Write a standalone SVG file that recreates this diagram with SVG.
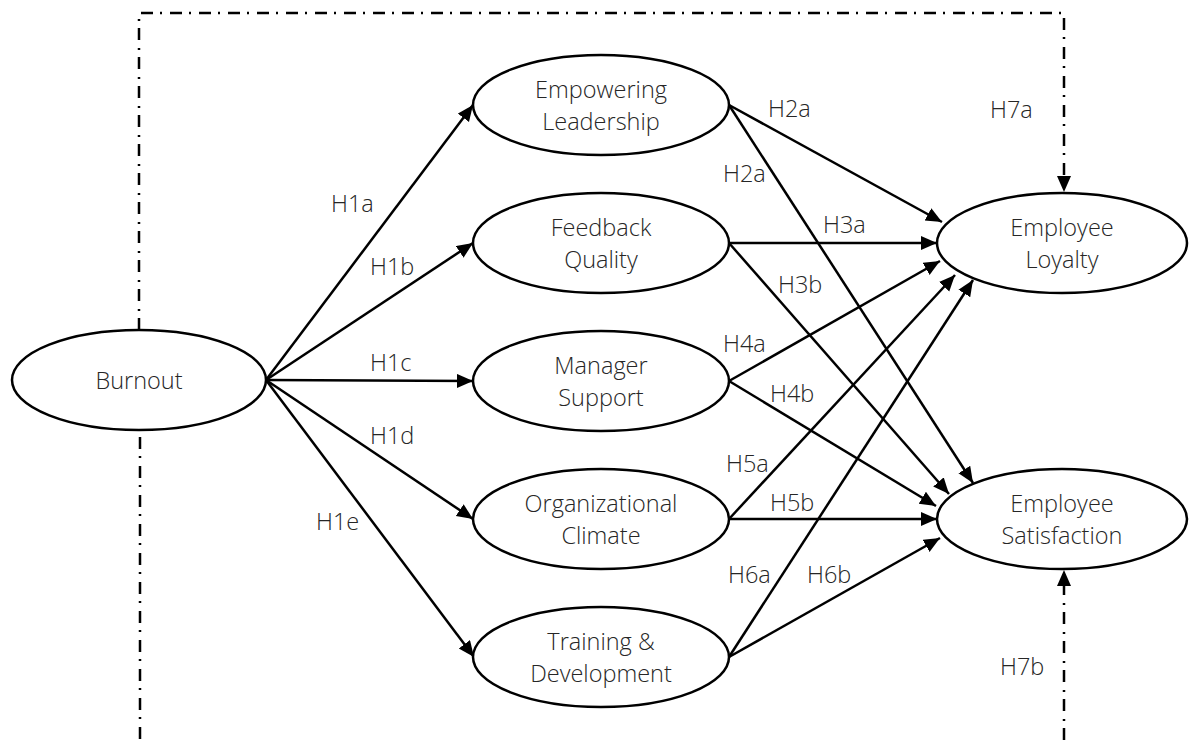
<svg xmlns="http://www.w3.org/2000/svg" width="1190" height="740" viewBox="0 0 1190 740">
<style>
.node ellipse{fill:#fff;stroke:#000;stroke-width:2.5}
.t{font-family:"Open Sans","Liberation Sans",sans-serif;font-weight:300;font-size:23.5px;fill:#262626}
.c{text-anchor:middle}
.ln{stroke:#000;stroke-width:2.5;fill:none}
.dd{stroke:#000;stroke-width:2.5;fill:none;stroke-dasharray:12 7 2 8}
</style>
<defs>
<marker id="ah" markerUnits="userSpaceOnUse" markerWidth="17" markerHeight="15" refX="16" refY="7" orient="auto">
<path d="M0,0 L16,7 L0,14 z" fill="#000"/>
</marker>
</defs>
<rect width="1190" height="740" fill="#fff"/>
<g id="connectors">
<path class="dd" d="M139,330 V13 H1064 V192" marker-end="url(#ah)"/>
<path class="dd" d="M140,437 V740"/>
<path class="dd" d="M1064,740 V570" marker-end="url(#ah)"/>
<line class="ln" x1="266" y1="380" x2="473" y2="105" marker-end="url(#ah)"/>
<line class="ln" x1="266" y1="380" x2="473" y2="243" marker-end="url(#ah)"/>
<line class="ln" x1="266" y1="380" x2="473" y2="381" marker-end="url(#ah)"/>
<line class="ln" x1="266" y1="380" x2="473" y2="519" marker-end="url(#ah)"/>
<line class="ln" x1="266" y1="380" x2="474" y2="657" marker-end="url(#ah)"/>
<line class="ln" x1="729" y1="105" x2="942" y2="222" marker-end="url(#ah)"/>
<line class="ln" x1="729" y1="105" x2="973" y2="483" marker-end="url(#ah)"/>
<line class="ln" x1="729" y1="243" x2="937" y2="243" marker-end="url(#ah)"/>
<line class="ln" x1="729" y1="243" x2="949" y2="494" marker-end="url(#ah)"/>
<line class="ln" x1="729" y1="381" x2="940" y2="261" marker-end="url(#ah)"/>
<line class="ln" x1="729" y1="381" x2="936" y2="506" marker-end="url(#ah)"/>
<line class="ln" x1="729" y1="519" x2="955" y2="275" marker-end="url(#ah)"/>
<line class="ln" x1="729" y1="519" x2="937" y2="519" marker-end="url(#ah)"/>
<line class="ln" x1="729" y1="657" x2="973" y2="280" marker-end="url(#ah)"/>
<line class="ln" x1="729" y1="657" x2="940" y2="538" marker-end="url(#ah)"/>
</g>
<g id="labels" class="t">
<text x="331" y="212">H1a</text>
<text x="370" y="275">H1b</text>
<text x="370" y="371">H1c</text>
<text x="370" y="444">H1d</text>
<text x="316" y="530">H1e</text>
<text x="768" y="117">H2a</text>
<text x="723" y="182">H2a</text>
<text x="823" y="233">H3a</text>
<text x="778" y="293">H3b</text>
<text x="723" y="352">H4a</text>
<text x="770" y="402">H4b</text>
<text x="726" y="472">H5a</text>
<text x="770" y="511">H5b</text>
<text x="728" y="583">H6a</text>
<text x="807" y="583">H6b</text>
<text x="990" y="118">H7a</text>
<text x="1000" y="675">H7b</text>
</g>
<g id="burnout" class="node"><ellipse cx="139" cy="380" rx="127" ry="50"/><text class="t c" x="139" y="389">Burnout</text></g>
<g id="empowering-leadership" class="node"><ellipse cx="601" cy="105" rx="128" ry="50"/><text class="t c" x="601" y="98">Empowering</text><text class="t c" x="601" y="130">Leadership</text></g>
<g id="feedback-quality" class="node"><ellipse cx="601" cy="243" rx="128" ry="50"/><text class="t c" x="601" y="236">Feedback</text><text class="t c" x="601" y="268">Quality</text></g>
<g id="manager-support" class="node"><ellipse cx="601" cy="381" rx="128" ry="50"/><text class="t c" x="601" y="374">Manager</text><text class="t c" x="601" y="406">Support</text></g>
<g id="organizational-climate" class="node"><ellipse cx="601" cy="519" rx="128" ry="50"/><text class="t c" x="601" y="512">Organizational</text><text class="t c" x="601" y="544">Climate</text></g>
<g id="training-development" class="node"><ellipse cx="601" cy="657" rx="128" ry="50"/><text class="t c" x="601" y="650">Training &amp;</text><text class="t c" x="601" y="682">Development</text></g>
<g id="employee-loyalty" class="node"><ellipse cx="1062" cy="243" rx="125" ry="50"/><text class="t c" x="1062" y="236">Employee</text><text class="t c" x="1062" y="268">Loyalty</text></g>
<g id="employee-satisfaction" class="node"><ellipse cx="1062" cy="519" rx="125" ry="50"/><text class="t c" x="1062" y="512">Employee</text><text class="t c" x="1062" y="544">Satisfaction</text></g>
</svg>
